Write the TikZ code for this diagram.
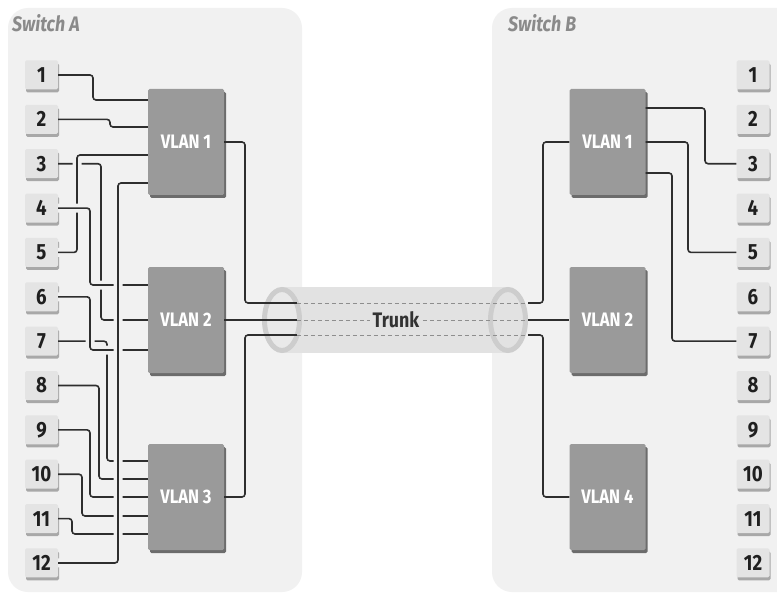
\documentclass[tikz,border=0pt]{standalone}
\usepackage{fontspec}
\setmainfont{Fira Sans}
\newfontfamily\cfont[FakeStretch=0.85]{Fira Sans}
\usetikzlibrary{shadows}
\definecolor{panel}{HTML}{F1F1F1}
\definecolor{wirec}{HTML}{2E2E2E}
\definecolor{portfill}{HTML}{E4E4E4}
\definecolor{portshadow}{HTML}{A8A8A8}
\definecolor{vlanfill}{HTML}{9A9A9A}
\definecolor{vlanshadow}{HTML}{6C6C6C}
\definecolor{tube}{HTML}{E2E2E2}
\definecolor{tubelight}{HTML}{E9E9E9}
\definecolor{ringc}{HTML}{CDCDCD}
\definecolor{labgray}{HTML}{8A8A8A}
\definecolor{dashc}{HTML}{8E8E8E}
\tikzset{
  pbox/.style={fill=portfill, minimum width=33pt, minimum height=29pt, inner sep=0pt,
    rounded corners=1.5pt, text=black!88,
    font=\cfont\bfseries\fontsize{22}{22}\selectfont,
    general shadow={fill=portshadow, shadow xshift=1pt, shadow yshift=-3pt}},
  vbox/.style={fill=vlanfill, minimum width=76pt, minimum height=106pt, inner sep=0pt,
    rounded corners=1.5pt, text=white,
    font=\cfont\bfseries\fontsize{19.5}{19.5}\selectfont,
    general shadow={fill=vlanshadow, shadow xshift=2pt, shadow yshift=-3pt}},
  wire/.style={draw=wirec, line width=1.6pt, rounded corners=3pt},
  halo/.style={preaction={draw=panel, line width=9pt, rounded corners=3pt}},
  dashline/.style={draw=dashc, line width=0.8pt, dash pattern=on 4pt off 3pt},
  swlabel/.style={text=labgray, inner sep=0pt,
    font=\cfont\bfseries\itshape\fontsize{21}{21}\selectfont},
}
\begin{document}
\begin{tikzpicture}[x=1pt,y=-1pt]
\useasboundingbox (0,0) rectangle (777,599);
\fill[white] (0,0) rectangle (777,599);
% panels
\begin{scope}
\clip (0,0) rectangle (777,599);
\fill[panel, rounded corners=20pt] (8,8) rectangle (302,592);
\fill[panel, rounded corners=20pt] (492,8) rectangle (800,592);
\end{scope}
\node[swlabel, anchor=base west] (labA) at (12,32) {Switch A};
\node[swlabel, anchor=base west] (labB) at (508,32) {Switch B};
% ports
\foreach \i in {1,...,12} {
  \node[pbox] (pA\i) at (41.5, {75+(\i-1)*44.36}) {\i};
  \node[pbox] (pB\i) at (753, {75+(\i-1)*44.36}) {\i};
}
% VLAN boxes
\node[vbox] (vA1) at (186,142) {VLAN 1};
\node[vbox] (vA2) at (186,320) {VLAN 2};
\node[vbox] (vA3) at (186,497) {VLAN 3};
\node[vbox] (vB1) at (607.5,142) {VLAN 1};
\node[vbox] (vB2) at (607.5,320) {VLAN 2};
\node[vbox] (vB4) at (607.5,497) {VLAN 4};
% trunk
\fill[tube] (282,287) rectangle (508,353);
\draw[ringc, line width=5pt, fill=tube] (508,320) ellipse [x radius=17.5pt, y radius=30.5pt];
\draw[ringc, line width=5pt, fill=tubelight] (282,320) ellipse [x radius=17.5pt, y radius=30.5pt];
\node[minimum width=231pt, minimum height=66pt, inner sep=0pt] (trunk) at (412.5,320) {};
\draw[dashline] (trunk.west |- 0,303) -- (trunk.east |- 0,303);
\draw[dashline] (trunk.west |- 0,320) -- (trunk.east |- 0,320);
\draw[dashline] (trunk.west |- 0,335) -- (trunk.east |- 0,335);
\node[fill=tube, inner xsep=3pt, inner ysep=1pt, text=black!80,
  font=\cfont\bfseries\fontsize{21}{21}\selectfont] (tlabel) at (396,320) {Trunk};
% switch A port wires
\draw[wire] (pA1.east) -| (93,100) -- (vA1.west |- 0,100);
\draw[wire] (pA2.east) -| (110,127) -- (vA1.west |- 0,127);
\draw[wire] (pA3.east) -| (101,320) -- (vA2.west);
\draw[wire, halo] (pA5.east) -| (77,155) -- (vA1.west |- 0,155);
\draw[wire, halo] (pA4.east) -| (90,285) -- (vA2.west |- 0,285);
\draw[wire] (pA7.east) -| (107,461) -- (vA3.west |- 0,461);
\draw[wire, halo] (pA6.east) -| (90,350) -- (vA2.west |- 0,350);
\draw[wire] (pA8.east) -| (99,479) -- (vA3.west |- 0,479);
\draw[wire] (pA9.east) -| (90,497) -- (vA3.west |- 0,497);
\draw[wire] (pA10.east) -| (82,516) -- (vA3.west |- 0,516);
\draw[wire] (pA11.east) -| (72,534) -- (vA3.west |- 0,534);
\draw[wire, halo] (pA12.east) -| (118,183) -- (vA1.west |- 0,183);
% trunk wires
\draw[wire] (vA1.east) -| (245,303) -- (trunk.west |- 0,303);
\draw[wire] (vA2.east) -- (trunk.west |- vA2.east);
\draw[wire] (vA3.east) -| (245,335) -- (trunk.west |- 0,335);
\draw[wire] (trunk.east |- 0,303) -| (543,142) -- (vB1.west);
\draw[wire] (trunk.east |- vB2.west) -- (vB2.west);
\draw[wire] (trunk.east |- 0,335) -| (543,497) -- (vB4.west);
% switch B port wires
\draw[wire] (vB1.east |- 0,108) -| (705,163.72) -- (pB3.west);
\draw[wire] (vB1.east) -| (688,252.44) -- (pB5.west);
\draw[wire] (vB1.east |- 0,173) -| (672,341.16) -- (pB7.west);
\end{tikzpicture}
\end{document}
